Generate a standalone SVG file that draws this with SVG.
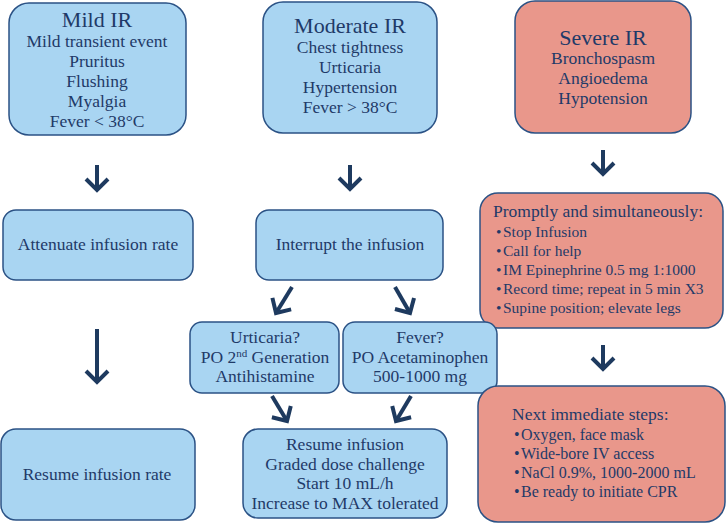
<svg xmlns="http://www.w3.org/2000/svg" width="727" height="524" viewBox="0 0 727 524">
<defs>
<style>
.blue{fill:#a9d5f2;stroke:#2b5285;stroke-width:1.5}
.red{fill:#e9978b;stroke:#2b5285;stroke-width:1.5}
text{font-family:"Liberation Serif","Times New Roman",serif;fill:#1f3a68;font-size:17.5px}
.c{text-anchor:middle}
.t{font-size:22px}
.b{font-size:15.5px}
.b2{font-size:16px}
.arr{stroke:#1e3a5f;stroke-width:4;fill:none;marker-end:url(#chev)}
</style>
<marker id="chev" viewBox="-2 -2 16 28" refX="11" refY="12" markerWidth="16" markerHeight="28" markerUnits="userSpaceOnUse" orient="auto">
<path d="M0,1 L11,12 L0,23" fill="none" stroke="#1e3a5f" stroke-width="4"/>
</marker>
</defs>
<rect width="727" height="524" fill="#ffffff"/>
<g id="mild">
<rect class="blue" x="9" y="3" width="177" height="132" rx="20"/>
<text class="c t" x="97" y="27">Mild IR</text>
<text class="c" x="97" y="47">Mild transient event</text>
<text class="c" x="97" y="67">Pruritus</text>
<text class="c" x="97" y="87">Flushing</text>
<text class="c" x="97" y="107">Myalgia</text>
<text class="c" x="97" y="127">Fever &lt; 38°C</text>
</g>
<g id="moderate">
<rect class="blue" x="263" y="2" width="174" height="131" rx="20"/>
<text class="c t" x="350" y="33">Moderate IR</text>
<text class="c" x="350" y="53">Chest tightness</text>
<text class="c" x="350" y="73">Urticaria</text>
<text class="c" x="350" y="93">Hypertension</text>
<text class="c" x="350" y="113">Fever &gt; 38°C</text>
</g>
<g id="severe">
<rect class="red" x="515" y="1" width="176" height="132" rx="20"/>
<text class="c t" x="603" y="45">Severe IR</text>
<text class="c" x="603" y="64">Bronchospasm</text>
<text class="c" x="603" y="84">Angioedema</text>
<text class="c" x="603" y="104">Hypotension</text>
</g>
<g id="attenuate">
<rect class="blue" x="3" y="210" width="190" height="70" rx="13"/>
<text class="c" x="98" y="250">Attenuate infusion rate</text>
</g>
<g id="interrupt">
<rect class="blue" x="256" y="210" width="187" height="70" rx="13"/>
<text class="c" x="350" y="250">Interrupt the infusion</text>
</g>
<g id="promptly">
<rect class="red" x="480" y="193" width="243" height="135" rx="18"/>
<text x="493" y="217">Promptly and simultaneously:</text>
<text class="b" x="496" y="237">•<tspan x="503">Stop Infusion</tspan></text>
<text class="b" x="496" y="256">•<tspan x="503">Call for help</tspan></text>
<text class="b" x="496" y="275">•<tspan x="503">IM Epinephrine 0.5 mg 1:1000</tspan></text>
<text class="b" x="496" y="294">•<tspan x="503">Record time; repeat in 5 min X3</tspan></text>
<text class="b" x="496" y="313">•<tspan x="503">Supine position; elevate legs</tspan></text>
</g>
<g id="urticaria">
<rect class="blue" x="190" y="322" width="149" height="71" rx="12"/>
<text class="c" x="265" y="343">Urticaria?</text>
<text class="c" x="265" y="363">PO 2<tspan dy="-6" font-size="11">nd</tspan><tspan dy="6"> Generation</tspan></text>
<text class="c" x="265" y="382">Antihistamine</text>
</g>
<g id="fever">
<rect class="blue" x="343" y="322" width="154" height="71" rx="12"/>
<text class="c" x="420" y="343">Fever?</text>
<text class="c" x="420" y="363">PO Acetaminophen</text>
<text class="c" x="420" y="382">500-1000 mg</text>
</g>
<g id="resume-rate">
<rect class="blue" x="1" y="429" width="194" height="91" rx="15"/>
<text class="c" x="97" y="480">Resume infusion rate</text>
</g>
<g id="resume-infusion">
<rect class="blue" x="243" y="429" width="204" height="89" rx="15"/>
<text class="c" x="345" y="450">Resume infusion</text>
<text class="c" x="345" y="470">Graded dose challenge</text>
<text class="c" x="345" y="489">Start 10 mL/h</text>
<text class="c" x="345" y="509">Increase to MAX tolerated</text>
</g>
<g id="next">
<rect class="red" x="478" y="386" width="247" height="136" rx="20"/>
<text x="512" y="420">Next immediate steps:</text>
<text class="b2" x="514" y="440">•<tspan x="521">Oxygen, face mask</tspan></text>
<text class="b2" x="514" y="459">•<tspan x="521">Wide-bore IV access</tspan></text>
<text class="b2" x="514" y="478">•<tspan x="521">NaCl 0.9%, 1000-2000 mL</tspan></text>
<text class="b2" x="514" y="497">•<tspan x="521">Be ready to initiate CPR</tspan></text>
</g>
<g id="connectors">
<line class="arr" x1="97" y1="165" x2="97" y2="190"/>
<line class="arr" x1="97" y1="329" x2="97" y2="382"/>
<line class="arr" x1="350" y1="165" x2="350" y2="189"/>
<line class="arr" x1="603" y1="150" x2="603" y2="174"/>
<line class="arr" x1="603" y1="345" x2="603" y2="369"/>
<line class="arr" x1="292" y1="287" x2="276" y2="313"/>
<line class="arr" x1="395" y1="287" x2="410" y2="313"/>
<line class="arr" x1="272" y1="396" x2="287" y2="421"/>
<line class="arr" x1="411" y1="396" x2="396" y2="421"/>
</g>
</svg>
